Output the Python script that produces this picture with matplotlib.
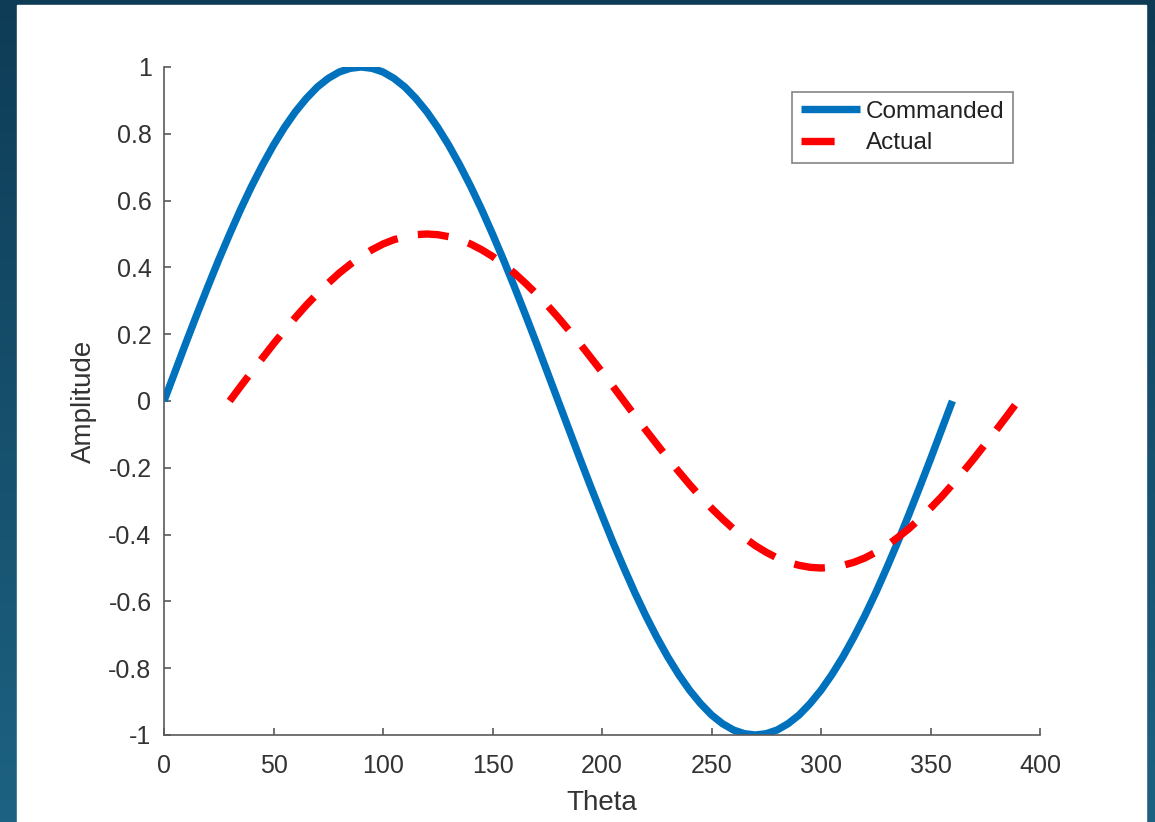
import numpy as np
import matplotlib
matplotlib.use("Agg")
import matplotlib.pyplot as plt
from matplotlib.lines import Line2D
from matplotlib.patches import Rectangle

# ---- data ----
theta_cmd = [0, 5, 10, 15, 20, 25, 30, 35, 40, 45, 50, 55, 60, 65, 70, 75, 80, 85, 90,
             95, 100, 105, 110, 115, 120, 125, 130, 135, 140, 145, 150, 155, 160, 165, 170, 175, 180,
             185, 190, 195, 200, 205, 210, 215, 220, 225, 230, 235, 240, 245, 250, 255, 260, 265, 270,
             275, 280, 285, 290, 295, 300, 305, 310, 315, 320, 325, 330, 335, 340, 345, 350, 355, 360]
amp_cmd = [0, 0.087, 0.174, 0.259, 0.342, 0.423, 0.5, 0.574, 0.643, 0.707, 0.766, 0.819, 0.866,
           0.906, 0.940, 0.966, 0.985, 0.996, 1.0,
           0.996, 0.985, 0.966, 0.940, 0.906, 0.866, 0.819, 0.766, 0.707, 0.643, 0.574, 0.5,
           0.423, 0.342, 0.259, 0.174, 0.087, 0,
           -0.087, -0.174, -0.259, -0.342, -0.423, -0.5, -0.574, -0.643, -0.707, -0.766, -0.819,
           -0.866, -0.906, -0.940, -0.966, -0.985, -0.996, -1.0,
           -0.996, -0.985, -0.966, -0.940, -0.906, -0.866, -0.819, -0.766, -0.707, -0.643, -0.574,
           -0.5, -0.423, -0.342, -0.259, -0.174, -0.087, 0]
theta_act = [30, 35, 40, 45, 50, 55, 60, 65, 70, 75, 80, 85, 90, 95, 100, 105, 110, 115, 120,
             125, 130, 135, 140, 145, 150, 155, 160, 165, 170, 175, 180, 185, 190, 195, 200, 205, 210,
             215, 220, 225, 230, 235, 240, 245, 250, 255, 260, 265, 270, 275, 280, 285, 290, 295, 300,
             305, 310, 315, 320, 325, 330, 335, 340, 345, 350, 355, 360, 365, 370, 375, 380, 385, 390]
amp_act = [0, 0.044, 0.087, 0.129, 0.171, 0.211, 0.25, 0.287, 0.321, 0.353, 0.383, 0.409, 0.433,
           0.453, 0.470, 0.483, 0.492, 0.498, 0.5,
           0.498, 0.492, 0.483, 0.470, 0.453, 0.433, 0.409, 0.383, 0.353, 0.321, 0.287, 0.25,
           0.211, 0.171, 0.129, 0.087, 0.044, 0,
           -0.044, -0.087, -0.129, -0.171, -0.211, -0.25, -0.287, -0.321, -0.353, -0.383, -0.409,
           -0.433, -0.453, -0.470, -0.483, -0.492, -0.498, -0.5,
           -0.498, -0.492, -0.483, -0.470, -0.453, -0.433, -0.409, -0.383, -0.353, -0.321, -0.287,
           -0.25, -0.211, -0.171, -0.129, -0.087, -0.044, 0]
series_labels = ["Commanded", "Actual"]
xticks = [0, 50, 100, 150, 200, 250, 300, 350, 400]
yticks = [-1, -0.8, -0.6, -0.4, -0.2, 0, 0.2, 0.4, 0.6, 0.8, 1]
ytick_labels = ["-1", "-0.8", "-0.6", "-0.4", "-0.2", "0", "0.2", "0.4", "0.6", "0.8", "1"]

plt.rcParams['font.family'] = ['Liberation Sans', 'DejaVu Sans']

W, H = 1155, 822
fig = plt.figure(figsize=(W / 100, H / 100), dpi=100)

# slide background gradient
bg = fig.add_axes([0, 0, 1, 1], zorder=-10)
t = np.linspace(0, 1, 256)[:, None]
top = np.array([14, 60, 86]) / 255
bot = np.array([29, 98, 130]) / 255
grad = top[None, None, :] * (1 - t[..., None]) + bot[None, None, :] * t[..., None]
grad = np.repeat(grad, 4, axis=1)
bg.imshow(grad, aspect='auto', extent=[0, 1, 0, 1], origin='upper')
bg.add_patch(Rectangle((17 / W, 0), (1146 - 17) / W, 1 - 5 / H, color='white', zorder=5))
bg.set_xlim(0, 1)
bg.set_ylim(0, 1)
bg.axis('off')

left, right = 164 / W, 1040 / W
ytop, ybot = 67 / H, 735 / H
ax = fig.add_axes([left, 1 - ybot, right - left, ybot - ytop])
ax.set_facecolor('none')

ax.plot(theta_cmd, amp_cmd, color='#0072BD', lw=5.3, solid_capstyle='butt',
        solid_joinstyle='round')
ax.plot(theta_act, amp_act, color='#FF0000', lw=5.3, dashes=(4.2, 2.8), dash_capstyle='butt',
        dash_joinstyle='round')

ax.set_xlim(0, 400)
ax.set_ylim(-1, 1)
ax.set_xticks(xticks)
ax.set_yticks(yticks)
ax.set_yticklabels(ytick_labels)
for s in ['top', 'right']:
    ax.spines[s].set_visible(False)
for s in ['left', 'bottom']:
    ax.spines[s].set_color('#5a5a5a')
    ax.spines[s].set_linewidth(1.2)
ax.tick_params(direction='in', length=5, width=1.2, color='#5a5a5a', labelsize=18,
               labelcolor='#333333')
ax.tick_params(axis='x', pad=14)
ax.tick_params(axis='y', pad=9)
ax.set_xlabel('Theta', fontsize=20, color='#333333', labelpad=8)
ax.set_ylabel('Amplitude', fontsize=20, color='#333333', labelpad=8)

handles = [Line2D([], [], color='#0072BD', lw=5.3, solid_capstyle='butt'),
           Line2D([], [], color='#FF0000', lw=5.3, dashes=(4.5, 6), dash_capstyle='butt')]
leg = fig.legend(handles, series_labels, loc='upper left',
                 bbox_to_anchor=(792 / W, 1 - 92 / H), fontsize=17.5, frameon=True,
                 fancybox=False, edgecolor='#666666', handlelength=2.45, handletextpad=0.25,
                 borderpad=0.35, labelspacing=0.4, borderaxespad=0)
leg.get_frame().set_linewidth(1.2)
for txt in leg.get_texts():
    txt.set_color('#222222')

fig.savefig('out.png', dpi=100)
